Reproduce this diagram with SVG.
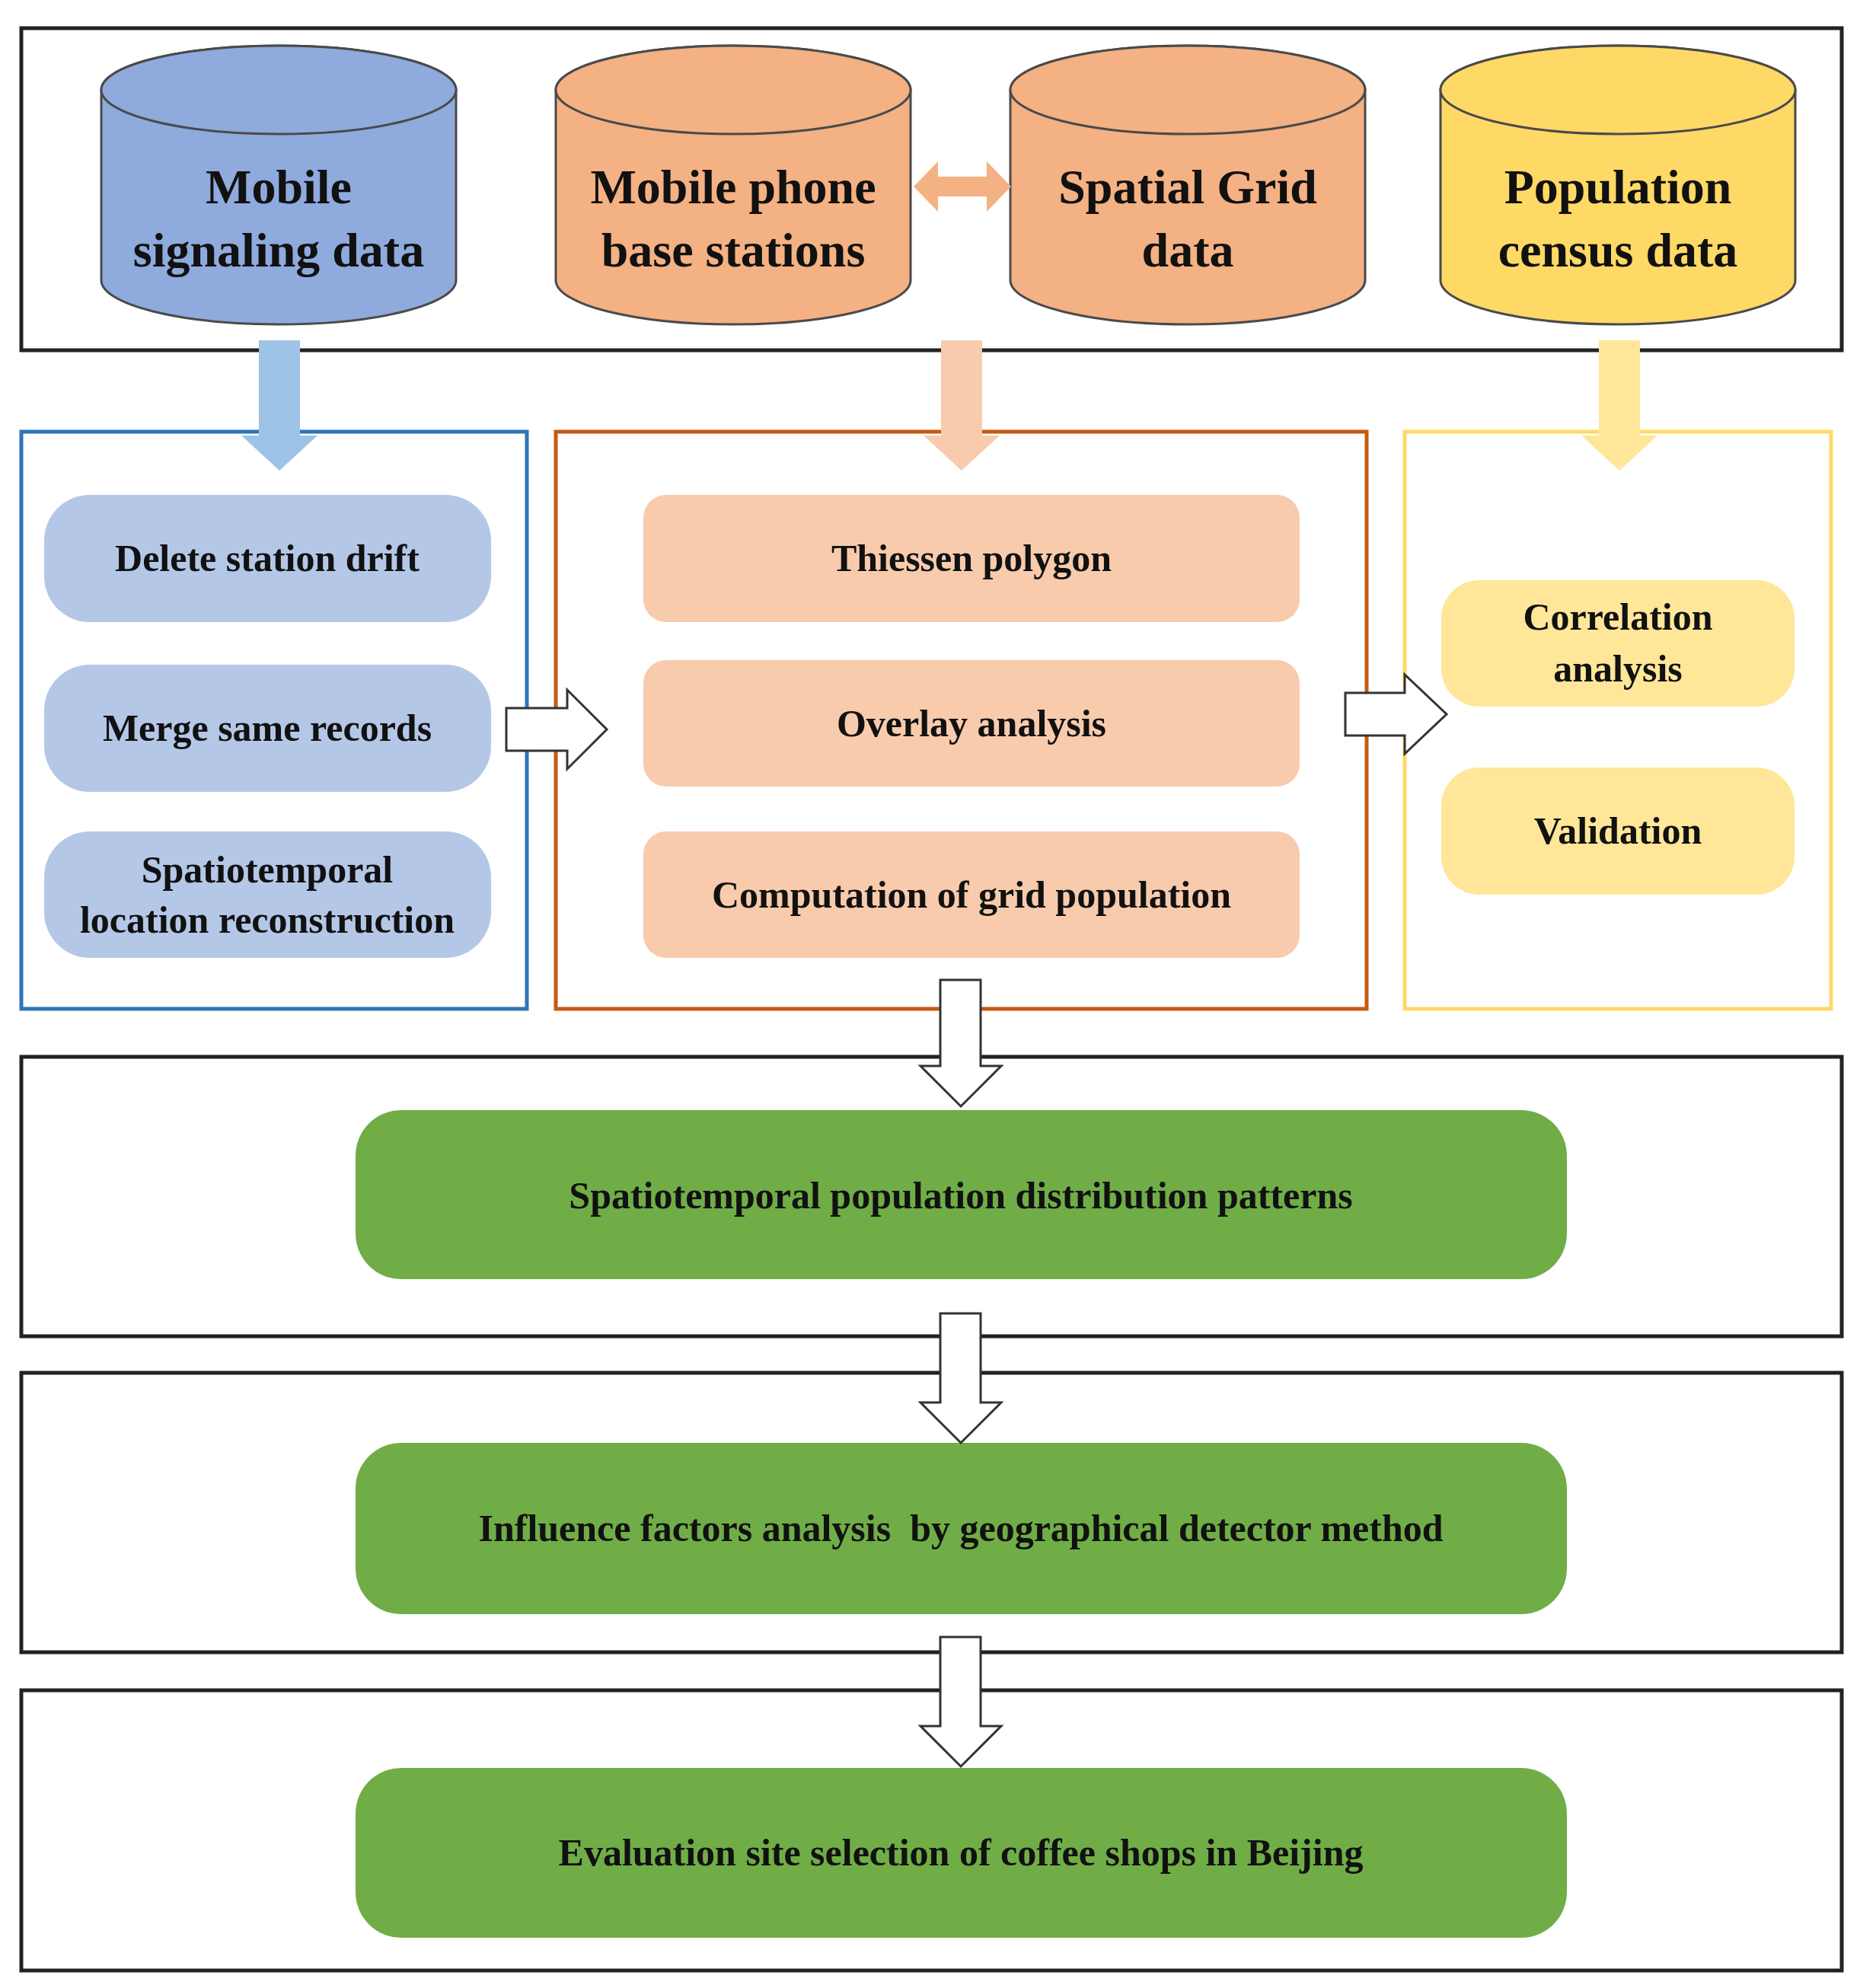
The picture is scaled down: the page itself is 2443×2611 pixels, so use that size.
<svg xmlns="http://www.w3.org/2000/svg" width="2443" height="2611" viewBox="0 0 2443 2611">
<style>
.frame{fill:none;stroke:#222;stroke-width:5}
.t{font-family:"Liberation Serif",serif;font-weight:bold;fill:#111;text-anchor:middle;dominant-baseline:central}
.big{font-size:64px}
.mid{font-size:50px}
.cyl{stroke:#4a4a4a;stroke-width:3}
.hollow{fill:#fff;stroke:#333;stroke-width:3}
</style>
<rect width="2443" height="2611" fill="#fff"/>
<rect class="frame" x="28" y="37" width="2391" height="423"/>
<rect x="28" y="567" width="664" height="758" fill="none" stroke="#2e75b6" stroke-width="5"/>
<rect x="730" y="567" width="1065" height="758" fill="none" stroke="#c55a11" stroke-width="5"/>
<rect x="1845" y="567" width="560" height="758" fill="none" stroke="#ffd966" stroke-width="5"/>
<rect class="frame" x="28" y="1388" width="2391" height="367"/>
<rect class="frame" x="28" y="1803" width="2391" height="367"/>
<rect class="frame" x="28" y="2220" width="2391" height="368"/>

<g id="cyl-mobile">
<path class="cyl" fill="#8faadc" d="M133,118 V368 A233,58 0 0 0 599,368 V118 A233,58 0 0 0 133,118 Z"/>
<ellipse class="cyl" fill="#8faadc" cx="366" cy="118" rx="233" ry="58"/>
<text class="t big" x="366" y="245">Mobile</text><text class="t big" x="366" y="328">signaling data</text>
</g>
<g id="cyl-base">
<path class="cyl" fill="#f4b183" d="M730,118 V368 A233,58 0 0 0 1196,368 V118 A233,58 0 0 0 730,118 Z"/>
<ellipse class="cyl" fill="#f4b183" cx="963" cy="118" rx="233" ry="58"/>
<text class="t big" x="963" y="245">Mobile phone</text><text class="t big" x="963" y="328">base stations</text>
</g>
<g id="cyl-grid">
<path class="cyl" fill="#f4b183" d="M1327,118 V368 A233,58 0 0 0 1793,368 V118 A233,58 0 0 0 1327,118 Z"/>
<ellipse class="cyl" fill="#f4b183" cx="1560" cy="118" rx="233" ry="58"/>
<text class="t big" x="1560" y="245">Spatial Grid</text><text class="t big" x="1560" y="328">data</text>
</g>
<g id="cyl-census">
<path class="cyl" fill="#ffd966" d="M1892,118 V368 A233,58 0 0 0 2358,368 V118 A233,58 0 0 0 1892,118 Z"/>
<ellipse class="cyl" fill="#ffd966" cx="2125" cy="118" rx="233" ry="58"/>
<text class="t big" x="2125" y="245">Population</text><text class="t big" x="2125" y="328">census data</text>
</g>

<g id="blue-nodes">
<rect x="58" y="650" width="587" height="167" rx="60" fill="#b4c7e7"/>
<text class="t mid" x="351" y="733">Delete station drift</text>
<rect x="58" y="873" width="587" height="167" rx="60" fill="#b4c7e7"/>
<text class="t mid" x="351" y="956">Merge same records</text>
<rect x="58" y="1092" width="587" height="166" rx="60" fill="#b4c7e7"/>
<text class="t mid" x="351" y="1142">Spatiotemporal</text><text class="t mid" x="351" y="1208">location reconstruction</text>
</g>
<g id="orange-nodes">
<rect x="845" y="650" width="862" height="167" rx="30" fill="#f8cbad"/>
<text class="t mid" x="1276" y="733">Thiessen polygon</text>
<rect x="845" y="867" width="862" height="166" rx="30" fill="#f8cbad"/>
<text class="t mid" x="1276" y="950">Overlay analysis</text>
<rect x="845" y="1092" width="862" height="166" rx="30" fill="#f8cbad"/>
<text class="t mid" x="1276" y="1175">Computation of grid population</text>
</g>
<g id="yellow-nodes">
<rect x="1893" y="762" width="464" height="166" rx="50" fill="#ffe699"/>
<text class="t mid" x="2125" y="810">Correlation</text><text class="t mid" x="2125" y="878">analysis</text>
<rect x="1893" y="1008" width="464" height="167" rx="50" fill="#ffe699"/>
<text class="t mid" x="2125" y="1091">Validation</text>
</g>
<g id="green-1">
<rect x="467" y="1458" width="1591" height="222" rx="60" fill="#70ad47"/>
<text class="t mid" x="1262" y="1570">Spatiotemporal population distribution patterns</text>
</g>
<g id="green-2">
<rect x="467" y="1895" width="1591" height="225" rx="60" fill="#70ad47"/>
<text class="t mid" x="1262" y="2007" xml:space="preserve">Influence factors analysis  by geographical detector method</text>
</g>
<g id="green-3">
<rect x="467" y="2322" width="1591" height="223" rx="60" fill="#70ad47"/>
<text class="t mid" x="1262" y="2433">Evaluation site selection of coffee shops in Beijing</text>
</g>

<g id="connectors">
<polygon fill="#f4b183" points="1200,245 1232,212 1232,232 1296,232 1296,212 1328,245 1296,278 1296,258 1232,258 1232,278"/>
<polygon fill="#9dc3e6" points="340,447 394,447 394,572 417,572 367,618 317,572 340,572"/>
<polygon fill="#f8cbad" points="1236,447 1290,447 1290,572 1313,572 1263,618 1213,572 1236,572"/>
<polygon fill="#ffe699" points="2100,447 2154,447 2154,572 2177,572 2127,618 2077,572 2100,572"/>
<polygon class="hollow" points="665,930 745,930 745,906 797,958 745,1010 745,986 665,986"/>
<polygon class="hollow" points="1767,910 1845,910 1845,886 1900,938 1845,990 1845,966 1767,966"/>
<polygon class="hollow" points="1235,1287 1288,1287 1288,1400 1315,1400 1262,1453 1209,1400 1235,1400"/>
<polygon class="hollow" points="1235,1725 1288,1725 1288,1842 1315,1842 1262,1895 1209,1842 1235,1842"/>
<polygon class="hollow" points="1235,2150 1288,2150 1288,2267 1315,2267 1262,2320 1209,2267 1235,2267"/>
</g>
</svg>
